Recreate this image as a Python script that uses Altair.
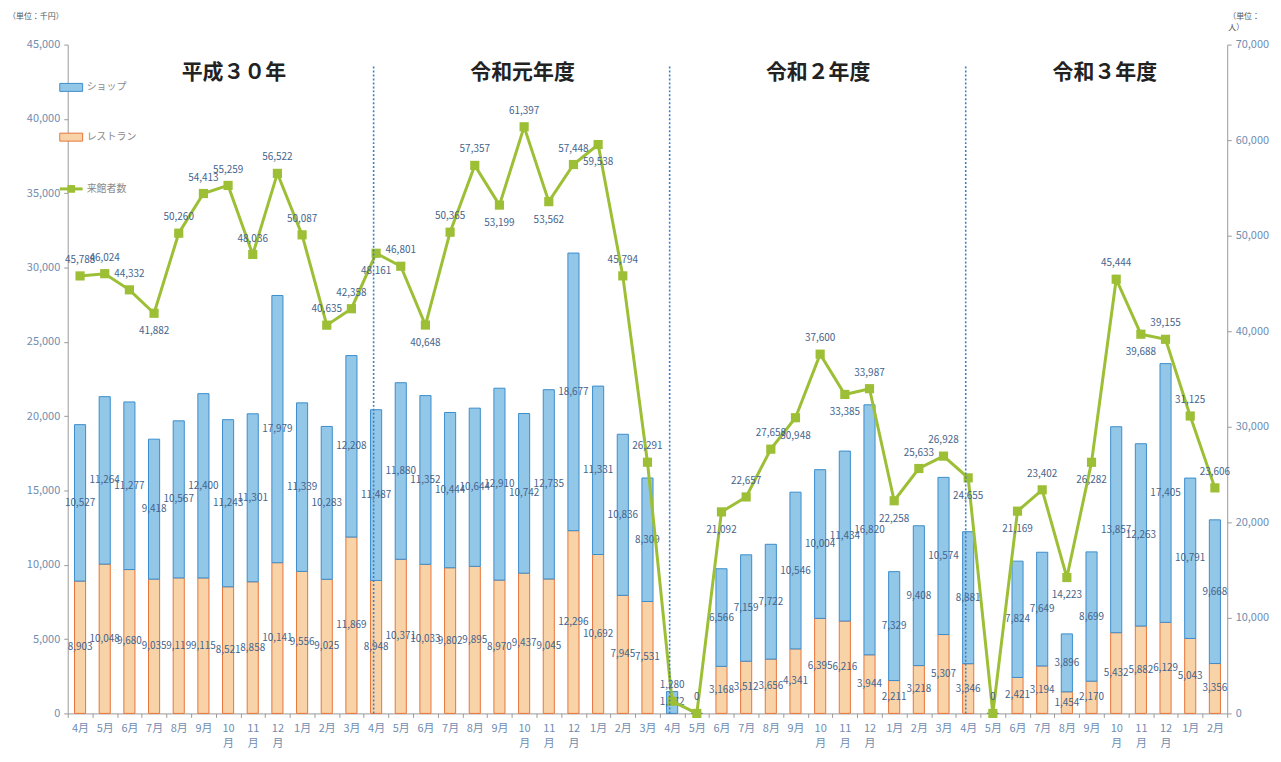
import json
import altair as alt
import pandas as pd

# ---------------- data ----------------
months = ["4月", "5月", "6月", "7月", "8月", "9月", "10月", "11月", "12月", "1月", "2月", "3月"]
x_labels = months * 3 + months[:11]

restaurant = [
    8903, 10048, 9680, 9035, 9119, 9115, 8521, 8858, 10141, 9556, 9025, 11869,
    8948, 10371, 10033, 9802, 9895, 8970, 9437, 9045, 12296, 10692, 7945, 7531,
    0, 0, 3168, 3512, 3656, 4341, 6395, 6216, 3944, 2211, 3218, 5307,
    3346, 0, 2421, 3194, 1454, 2170, 5432, 5882, 6129, 5043, 3356,
]
shop = [
    10527, 11264, 11277, 9418, 10567, 12400, 11243, 11301, 17979, 11339, 10283, 12208,
    11487, 11880, 11352, 10444, 10644, 12910, 10742, 12735, 18677, 11331, 10836, 8309,
    1472, 0, 6566, 7159, 7722, 10546, 10004, 11434, 16820, 7329, 9408, 10574,
    8881, 0, 7824, 7649, 3896, 8699, 13857, 12263, 17405, 10791, 9668,
]
visitors = [
    45788, 46024, 44332, 41882, 50260, 54413, 55259, 48036, 56522, 50087, 40635, 42358,
    48161, 46801, 40648, 50365, 57357, 53199, 61397, 53562, 57448, 59538, 45794, 26291,
    1280, 0, 21092, 22657, 27658, 30948, 37600, 33385, 33987, 22258, 25633, 26928,
    24655, 0, 21169, 23402, 14223, 26282, 45444, 39688, 39155, 31125, 23606,
]
year_titles = ["平成３０年", "令和元年度", "令和２年度", "令和３年度"]
year_starts = [12, 24, 36]

# label placement for visitor values (indices whose label sits below the marker)
label_below = [3, 12, 14, 17, 19, 21, 26, 29, 31, 33, 36, 38, 40, 41, 43]

# ---------------- styling ----------------
W, H = 1165, 672
FONT = "Noto Sans CJK JP"
SHOP_FILL, SHOP_STROKE = "#93c7e8", "#3b8dcc"
REST_FILL, REST_STROKE = "#f8d3a8", "#e8743a"
GREEN = "#9dbf36"
LBL = "#45648c"
AXIS_LBL = "#6f8db0"

n = len(x_labels)
df = pd.DataFrame({
    "i": list(range(n)),
    "rest": restaurant,
    "shop": shop,
    "vis": visitors,
})
df["top"] = df["rest"] + df["shop"]
df["rest_mid"] = df["rest"] / 2
df["shop_mid"] = df["rest"] + df["shop"] / 2
df["below"] = [i in label_below for i in range(n)]

lab_arr = [[m[:-1], "月"] if len(m) > 2 else m for m in x_labels]
label_expr = json.dumps(lab_arr, ensure_ascii=False) + "[datum.value]"

x_axis = alt.Axis(
    title=None, labelExpr=label_expr, labelAngle=0, labelColor=AXIS_LBL,
    labelFontSize=11, labelLineHeight=15, labelPadding=5, domainColor="#9a9a9a",
    tickColor="#9a9a9a", tickSize=4, tickBand="extent", labelFont=FONT,
)
X = alt.X("i:O", scale=alt.Scale(paddingInner=0, paddingOuter=0), axis=x_axis)

left_axis = alt.Axis(
    title=None, values=list(range(0, 45001, 5000)), format=",.0f", grid=False,
    labelColor=AXIS_LBL, labelFontSize=11, domainColor="#9a9a9a", tickColor="#9a9a9a",
    tickSize=4, labelPadding=4,
)
right_axis = alt.Axis(
    title=None, orient="right", values=list(range(0, 70001, 10000)), format=",.0f",
    grid=False, labelColor=AXIS_LBL, labelFontSize=11, domainColor="#9a9a9a",
    tickColor="#9a9a9a", tickSize=4, labelPadding=4,
)
lsc = alt.Scale(domain=[0, 45000], nice=False)
rsc = alt.Scale(domain=[0, 70000], nice=False)

base = alt.Chart(df)
bw = alt.RelativeBandSize(0.45)

rest_bar = base.mark_bar(width=bw, fill=REST_FILL, stroke=REST_STROKE, strokeWidth=1).encode(
    x=X, y=alt.Y("rest:Q", scale=lsc, axis=left_axis),
)
shop_bar = base.mark_bar(width=bw, fill=SHOP_FILL, stroke=SHOP_STROKE, strokeWidth=1).encode(
    x=X, y=alt.Y("top:Q", scale=lsc, axis=left_axis), y2="rest:Q",
)
rest_lbl = base.transform_filter("datum.rest > 0").mark_text(
    fontSize=10, color=LBL, font=FONT).encode(
    x=X, y=alt.Y("rest_mid:Q", scale=lsc, axis=left_axis),
    text=alt.Text("rest:Q", format=","))
shop_lbl = base.transform_filter("datum.shop > 0").mark_text(
    fontSize=10, color=LBL, font=FONT).encode(
    x=X, y=alt.Y("shop_mid:Q", scale=lsc, axis=left_axis),
    text=alt.Text("shop:Q", format=","))

left = alt.layer(rest_bar, shop_bar, rest_lbl, shop_lbl)

vis_y = alt.Y("vis:Q", scale=rsc, axis=right_axis)
line = base.mark_line(color=GREEN, strokeWidth=3).encode(x=X, y=vis_y)
pts = base.mark_point(shape="square", filled=True, size=85, color=GREEN, opacity=1).encode(
    x=X, y=vis_y)
vis_lbl_a = base.transform_filter("!datum.below").mark_text(
    fontSize=10, color=LBL, font=FONT, dy=-16).encode(
    x=X, y=vis_y, text=alt.Text("vis:Q", format=","))
vis_lbl_b = base.transform_filter("datum.below").mark_text(
    fontSize=10, color=LBL, font=FONT, dy=18).encode(
    x=X, y=vis_y, text=alt.Text("vis:Q", format=","))

right = alt.layer(line, pts, vis_lbl_a, vis_lbl_b)

dividers = alt.Chart(pd.DataFrame({"i": year_starts})).mark_rule(
    color="#3d7fc4", strokeDash=[2, 2], strokeWidth=1.6).encode(
    x=alt.X("i:O", bandPosition=0.4, scale=alt.Scale(paddingInner=0, paddingOuter=0),
            axis=x_axis),
    y=alt.value(22), y2=alt.value(H),
)

one = alt.Data(values=[{}])
annots = []
for t, px in zip(year_titles, [167, 457, 754, 1042]):
    annots.append(alt.Chart(one).mark_text(
        text=t, fontSize=21, fontWeight="bold", font=FONT, color="#222222").encode(
        x=alt.value(px), y=alt.value(29)))

# unit notes
annots.append(alt.Chart(one).mark_text(text="（単位：千円）", fontSize=8, font=FONT,
                                       color="#555555", align="left").encode(
    x=alt.value(-60), y=alt.value(-28)))
annots.append(alt.Chart(one).mark_text(text="（単位：", fontSize=8, font=FONT,
                                       color="#555555", align="left").encode(
    x=alt.value(1166), y=alt.value(-28)))
annots.append(alt.Chart(one).mark_text(text="人）", fontSize=8, font=FONT,
                                       color="#555555", align="left").encode(
    x=alt.value(1166), y=alt.value(-17)))

# legend (inside plot, top-left)
for name, fill, stroke, yy in [("ショップ", SHOP_FILL, SHOP_STROKE, 43),
                               ("レストラン", REST_FILL, REST_STROKE, 93)]:
    annots.append(alt.Chart(one).mark_rect(fill=fill, stroke=stroke, strokeWidth=1).encode(
        x=alt.value(-8), x2=alt.value(15), y=alt.value(yy - 4), y2=alt.value(yy + 4)))
    annots.append(alt.Chart(one).mark_text(text=name, fontSize=10, font=FONT,
                                           color="#8a8a8a", align="left").encode(
        x=alt.value(19), y=alt.value(yy)))
annots.append(alt.Chart(one).mark_rule(color=GREEN, strokeWidth=3).encode(
    x=alt.value(-8), x2=alt.value(15), y=alt.value(145)))
annots.append(alt.Chart(one).mark_point(shape="square", filled=True, size=60,
                                        color=GREEN, opacity=1).encode(
    x=alt.value(3.5), y=alt.value(145)))
annots.append(alt.Chart(one).mark_text(text="来館者数", fontSize=10, font=FONT,
                                       color="#8a8a8a", align="left").encode(
    x=alt.value(19), y=alt.value(145)))

chart = alt.layer(left, right, dividers, *annots).resolve_scale(
    y="independent"
).properties(
    width=W, height=H,
    autosize=alt.AutoSizeParams(type="none"),
    padding={"left": 60, "top": 35, "right": 46, "bottom": 38},
).configure(font=FONT).configure_view(stroke=None)

chart.save("out.html", embed_options={"renderer": "svg", "actions": False})
